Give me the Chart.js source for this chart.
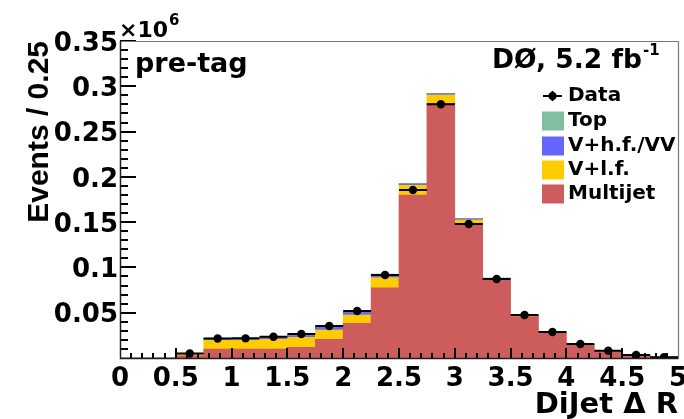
<!DOCTYPE html>
<html>
<head>
<meta charset="utf-8">
<script src="https://cdn.jsdelivr.net/npm/chart.js@4/dist/chart.umd.min.js"></script>
<style>
  html, body { margin: 0; padding: 0; background: #fff; }
  canvas { display: block; }
</style>
</head>
<body>
<canvas id="dRChart" width="684" height="419"></canvas>
<script>
// DiJet delta R, 0.25 wide bins from 0 to 5
const binEdges = [0, 0.25, 0.5, 0.75, 1, 1.25, 1.5, 1.75, 2, 2.25, 2.5,
                  2.75, 3, 3.25, 3.5, 3.75, 4, 4.25, 4.5, 4.75, 5];

// stacked backgrounds, bottom to top
const multijet = [0, 0, 2500, 9900, 9900, 9900, 11800, 20600, 38300, 77600,
                  180000, 281200, 148700, 86900, 45600, 27700, 14600, 7000, 3100, 900];
const vLightFlavor = [0, 0, 1900, 9700, 9700, 10700, 11000, 10300, 9200, 11100,
                      10700, 9200, 3700, 900, 800, 500, 300, 200, 100, 50];
const vHeavyFlavor = [0, 0, 500, 1800, 1800, 2000, 2000, 3400, 2800, 3000,
                      1500, 1300, 1200, 300, 300, 200, 100, 80, 40, 20];
const topQuark = [0, 0, 200, 600, 600, 600, 600, 900, 800, 1000,
                  700, 600, 600, 200, 100, 100, 50, 30, 20, 10];

const dataCounts = [0, 0, 5000, 21600, 21700, 23500, 26500, 35300, 51900, 91600,
                    185500, 280100, 148000, 87200, 47500, 28700, 15500, 8100, 3300, 800];

const yTicks = [0.05, 0.1, 0.15, 0.2, 0.25, 0.3, 0.35];  // x 10^6

const binCenters = binEdges.slice(0, -1).map((lo, i) => (lo + binEdges[i + 1]) / 2);
const asPoints = (vals) => vals.map((v, i) => ({ x: binCenters[i], y: v }));

const boldDV = (size) => ({ family: 'DejaVu Sans', size: size, weight: 'bold' });

// text followed by a raised exponent
function withExponent(ctx, text, exp, x, y, size, expSize, rise) {
  ctx.font = 'bold ' + size + 'px "DejaVu Sans"';
  ctx.fillText(text, x, y);
  const w = ctx.measureText(text).width;
  ctx.font = 'bold ' + expSize + 'px "DejaVu Sans"';
  ctx.fillText(exp, x + w + 1, y - rise);
}

// ROOT style frame, inner ticks, data error bars and the text boxes
const rootDecor = {
  id: 'rootDecor',
  afterDatasetsDraw(chart) {
    const { ctx, scales } = chart;
    const x = scales.x, y = scales.yData;
    ctx.save();

    // horizontal bin-width bars through each data point
    ctx.strokeStyle = '#000';
    ctx.lineWidth = 2;
    dataCounts.forEach((n, i) => {
      if (!n) return;
      const py = y.getPixelForValue(n);
      const px = x.getPixelForValue(binCenters[i]);
      const err = Math.sqrt(n);
      ctx.beginPath();
      ctx.moveTo(x.getPixelForValue(binEdges[i]), py);
      ctx.lineTo(x.getPixelForValue(binEdges[i + 1]), py);
      ctx.moveTo(px, y.getPixelForValue(n - err));
      ctx.lineTo(px, y.getPixelForValue(n + err));
      ctx.stroke();
    });
    ctx.restore();
  },
  afterDraw(chart) {
    const { ctx, chartArea: a, scales } = chart;
    const x = scales.x, ys = scales.y;
    ctx.save();

    // inner ticks: y every 0.01 (long every 0.05), x every 0.1 (long every 0.5)
    ctx.strokeStyle = '#000';
    ctx.lineWidth = 2;
    ctx.beginPath();
    for (let k = 1; k <= 35; k++) {
      const py = Math.round(ys.getPixelForValue(k * 10000));
      const len = k % 5 === 0 ? 16 : 8;
      ctx.moveTo(a.left, py);
      ctx.lineTo(a.left + len, py);
    }
    for (let k = 1; k < 50; k++) {
      const px = Math.round(x.getPixelForValue(k / 10));
      const len = k % 5 === 0 ? 10 : 5;
      ctx.moveTo(px, a.bottom);
      ctx.lineTo(px, a.bottom - len);
    }
    ctx.stroke();

    // frame
    ctx.lineWidth = 1.2;
    ctx.strokeStyle = '#777';
    ctx.beginPath();
    ctx.moveTo(a.left, a.top + 0.5);
    ctx.lineTo(a.right + 0.5, a.top + 0.5);
    ctx.lineTo(a.right + 0.5, a.bottom);
    ctx.stroke();
    ctx.lineWidth = 1.5;
    ctx.strokeStyle = '#222';
    ctx.beginPath();
    ctx.moveTo(a.left + 0.5, a.top);
    ctx.lineTo(a.left + 0.5, a.bottom + 0.5);
    ctx.lineTo(a.right + 0.5, a.bottom + 0.5);
    ctx.stroke();

    ctx.fillStyle = '#000';
    ctx.textBaseline = 'alphabetic';

    withExponent(ctx, '\u00d710', '6', 119, 37, 22, 15, 12);

    ctx.font = 'bold 27px "DejaVu Sans"';
    ctx.fillText('pre-tag', 135, 72);

    withExponent(ctx, 'D\u00d8, 5.2 fb', '-1', 492, 68, 26.5, 15, 13);

    // legend
    const entries = [
      { label: 'Data', y: 96 },
      { label: 'Top', y: 121, color: '#80c0a0' },
      { label: 'V+h.f./VV', y: 146, color: '#6666ff' },
      { label: 'V+l.f.', y: 170, color: '#ffcc00' },
      { label: 'Multijet', y: 194, color: '#cd5c5c' }
    ];
    ctx.font = 'bold 20px "DejaVu Sans"';
    ctx.textBaseline = 'middle';
    entries.forEach((e) => {
      if (e.color) {
        ctx.fillStyle = e.color;
        ctx.fillRect(542, e.y - 9.5, 22, 19);
      } else {
        ctx.strokeStyle = '#000';
        ctx.lineWidth = 2;
        ctx.beginPath();
        ctx.moveTo(543, e.y); ctx.lineTo(562, e.y);
        ctx.moveTo(552.5, e.y - 5); ctx.lineTo(552.5, e.y + 5);
        ctx.stroke();
        ctx.fillStyle = '#000';
        ctx.beginPath();
        ctx.arc(552.5, e.y, 4, 0, Math.PI * 2);
        ctx.fill();
      }
      ctx.fillStyle = '#000';
      ctx.fillText(e.label, 568, e.y);
    });
    ctx.restore();
  }
};

const barSet = (label, vals, color) => ({
  type: 'bar',
  label: label,
  data: asPoints(vals),
  backgroundColor: color,
  borderWidth: 0,
  barPercentage: 1,
  categoryPercentage: 1,
  xAxisID: 'x',
  yAxisID: 'y'
});

new Chart(document.getElementById('dRChart'), {
  type: 'bar',
  data: {
    datasets: [
      {
        type: 'scatter',
        label: 'Data',
        data: asPoints(dataCounts.map((v) => (v > 0 ? v : null))),
        xAxisID: 'x',
        yAxisID: 'yData',
        pointRadius: 4.2,
        pointBackgroundColor: '#000',
        pointBorderWidth: 0,
        showLine: false
      },
      barSet('Multijet', multijet, '#cd5c5c'),
      barSet('V+l.f.', vLightFlavor, '#ffcc00'),
      barSet('V+h.f./VV', vHeavyFlavor, '#6666ff'),
      barSet('Top', topQuark, '#80c0a0')
    ]
  },
  options: {
    responsive: false,
    animation: false,
    events: [],
    layout: { padding: { top: 41, right: 6, bottom: 0, left: 0 } },
    plugins: {
      legend: { display: false },
      tooltip: { enabled: false }
    },
    scales: {
      x: {
        type: 'linear',
        min: 0,
        max: 5,
        stacked: true,
        offset: false,
        grid: { display: false, drawTicks: false, offset: false },
        border: { display: false },
        ticks: {
          stepSize: 0.5,
          autoSkip: false,
          maxRotation: 0,
          padding: 6,
          color: '#000',
          font: boldDV(26),
          callback: (v) => String(v)
        },
        title: {
          display: true,
          text: 'DiJet \u0394 R',
          align: 'end',
          color: '#000',
          font: { family: 'DejaVu Sans', size: 29, weight: 'bold', lineHeight: 0.9 },
          padding: { top: 0, bottom: 0 }
        },
        afterFit(s) { s.height = 61; s.paddingLeft = 0; s.paddingRight = 0; }
      },
      y: {
        type: 'linear',
        min: 0,
        max: 350000,
        stacked: true,
        grid: { display: false, drawTicks: false },
        border: { display: false },
        afterBuildTicks(s) { s.ticks = yTicks.map((v) => ({ value: v * 1e6 })); },
        ticks: {
          padding: 2,
          labelOffset: 3,
          color: '#000',
          font: boldDV(26),
          callback: (v) => String(+(v / 1e6).toFixed(2))
        },
        title: {
          display: true,
          text: 'Events / 0.25',
          align: 'end',
          color: '#000',
          font: { family: 'Liberation Sans', size: 30, weight: 'bold' },
          padding: { top: 22, bottom: 0 }
        },
        afterFit(s) { s.width = 120; s.paddingTop = 0; s.paddingBottom = 0; }
      },
      yData: {
        type: 'linear',
        display: false,
        min: 0,
        max: 350000
      }
    }
  },
  plugins: [rootDecor]
});
</script>
</body>
</html>
